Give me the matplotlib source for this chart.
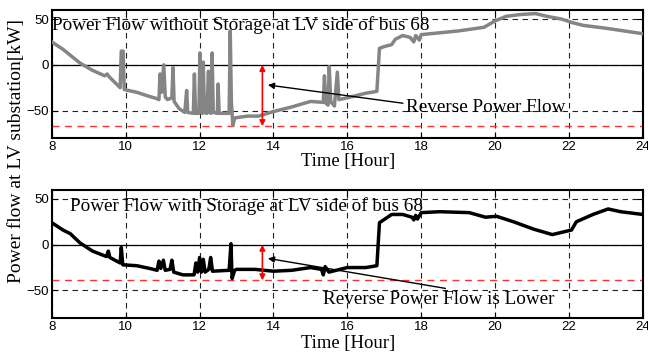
import matplotlib
matplotlib.use("Agg")
import matplotlib.pyplot as plt

# ---- data
hours_ticks = [8, 10, 12, 14, 16, 18, 20, 22, 24]
power_ticks = [-50, 0, 50]

no_storage_t = [8.0, 8.3, 8.76, 9.1, 9.43, 9.5, 9.55, 9.85, 9.88, 9.93, 9.96, 10.3, 10.6,
                10.85, 10.9, 10.93, 10.97, 11.03, 11.07, 11.13, 11.25, 11.28, 11.31, 11.45,
                11.6, 11.65, 11.68, 11.83, 11.86, 11.89, 11.98, 12.01, 12.04, 12.08, 12.1,
                12.13, 12.2, 12.24, 12.27, 12.31, 12.34, 12.37, 12.48, 12.5, 12.53, 12.8,
                12.83, 12.86, 12.9, 12.95, 13.3, 13.6, 14.0, 14.5, 15.0, 15.35, 15.38, 15.42,
                15.48, 15.51, 15.55, 15.65, 15.73, 15.77, 16.0, 16.5, 16.8, 16.87, 17.0, 17.2,
                17.3, 17.5, 17.7, 17.8, 17.85, 17.95, 18.0, 18.5, 19.0, 19.7, 20.0, 20.3,
                20.7, 21.1, 21.4, 21.8, 22.1, 22.4, 23.0, 23.5, 24.0]
no_storage_p = [25, 17, 2, -6, -12, -10, -13, -25, 15, 15, -27, -30, -34,
                -37, -38, -10, -30, 0, -35, -38, -36, -3, -40, -48,
                -52, -28, -52, -53, -10, -53, -53, 13, -50, -53, 3,
                -52, -53, -7, -52, -53, 13, -52, -53, -21, -53, -53,
                37, -40, -66, -58, -56, -56, -51, -46, -40, -41, -12, -42,
                -44, -2, -40, -45, -8, -38, -36, -31, -29, 18, 20, 22,
                28, 32, 30, 25, 32, 27, 33, 35, 37, 41, 48, 53,
                55, 56, 53, 50, 46, 43, 40, 37, 34]

storage_t = [8.0, 8.3, 8.5, 8.76, 9.1, 9.48, 9.53, 9.57, 9.85, 9.88, 9.92, 10.3, 10.65,
             10.85, 10.9, 10.95, 11.02, 11.07, 11.2, 11.25, 11.3, 11.55, 11.85, 11.9, 11.95,
             12.0, 12.05, 12.1, 12.15, 12.25, 12.3, 12.35, 12.8, 12.85, 12.88, 12.95, 13.0,
             13.5, 14.0, 14.5, 15.0, 15.3, 15.35, 15.4, 15.5, 16.0, 16.5, 16.8, 16.87, 17.2,
             17.5, 17.75, 17.8, 17.85, 17.9, 18.0, 18.5, 19.3, 19.74, 20.04, 20.5, 21.04,
             21.55, 22.07, 22.2, 22.65, 23.06, 23.4, 24.0]
storage_p = [24, 16, 12, 2, -7, -13, -7, -14, -20, -3, -22, -23, -26,
             -28, -18, -26, -17, -28, -27, -17, -30, -33, -33, -20, -30,
             -14, -30, -16, -30, -27, -14, -29, -28, 1, -37, -28, -27,
             -27, -29, -28, -25, -27, -33, -24, -30, -25, -25, -23, 24, 33,
             33, 30, 27, 32, 28, 35, 36, 35, 30, 31, 25, 17,
             11, 16, 25, 33, 39, 36, 33]

min_no_storage = -67
min_storage = -39
arrow_hour = 13.7

SERIF = "Liberation Serif"
plt.rcParams.update({"font.family": "Liberation Sans", "font.size": 9.5})

fig = plt.figure(figsize=(6.48, 3.54), dpi=100)
ax1 = fig.add_axes([0.080, 0.610, 0.912, 0.362])
ax2 = fig.add_axes([0.080, 0.102, 0.912, 0.362])

ax1.plot(no_storage_t, no_storage_p, color="#858585", lw=2.5, zorder=3)
ax2.plot(storage_t, storage_p, color="black", lw=2.5, zorder=3)

for ax, low in [(ax1, min_no_storage), (ax2, min_storage)]:
    ax.set_xlim(8, 24)
    ax.set_ylim(-80, 60)
    ax.set_xticks(hours_ticks)
    ax.set_yticks(power_ticks)
    ax.grid(True, color="#222222", ls=(0, (5, 4)), lw=0.8)
    ax.axhline(0, color="black", lw=0.9, zorder=2)
    ax.axhline(low, color="#ff3030", ls=(0, (5, 4)), lw=1.0, zorder=2)
    ax.annotate("", xy=(arrow_hour, low), xytext=(arrow_hour, 0),
                arrowprops=dict(arrowstyle="<|-|>", color="red", lw=1.2,
                                mutation_scale=8, shrinkA=0, shrinkB=0), zorder=4)
    ax.tick_params(direction="in", top=True, right=True, length=4, pad=2,
                   labelsize=9.5)
    for s in ax.spines.values():
        s.set_linewidth(1.5)

ax1.text(8.0, 38, "Power Flow without Storage at LV side of bus 68",
         family=SERIF, fontsize=13.8, va="baseline", ha="left")
ax2.text(8.49, 37, "Power Flow with Storage at LV side of bus 68",
         family=SERIF, fontsize=13.8, va="baseline", ha="left")

ax1.annotate("Reverse Power Flow", xy=(13.85, -22), xytext=(17.58, -51),
             family=SERIF, fontsize=13.8, va="baseline", ha="left",
             arrowprops=dict(arrowstyle="-|>", color="black", lw=1.0,
                             mutation_scale=9, shrinkA=0, shrinkB=0,
                             relpos=(0, 0.7)))
ax2.annotate("Reverse Power Flow is Lower", xy=(13.85, -15), xytext=(15.34, -65),
             family=SERIF, fontsize=13.8, va="baseline", ha="left",
             arrowprops=dict(arrowstyle="-|>", color="black", lw=1.0,
                             mutation_scale=9, shrinkA=0, shrinkB=0,
                             relpos=(0.6, 1.0)))

fig.text(0.537, 0.543, "Time [Hour]", family=SERIF, fontsize=13.4, ha="center", va="center")
fig.text(0.537, 0.031, "Time [Hour]", family=SERIF, fontsize=13.4, ha="center", va="center")
fig.text(0.026, 0.573, "Power flow at LV substation[kW]", family=SERIF, fontsize=14,
         rotation=90, ha="center", va="center")

fig.savefig("out.png", dpi=100)
